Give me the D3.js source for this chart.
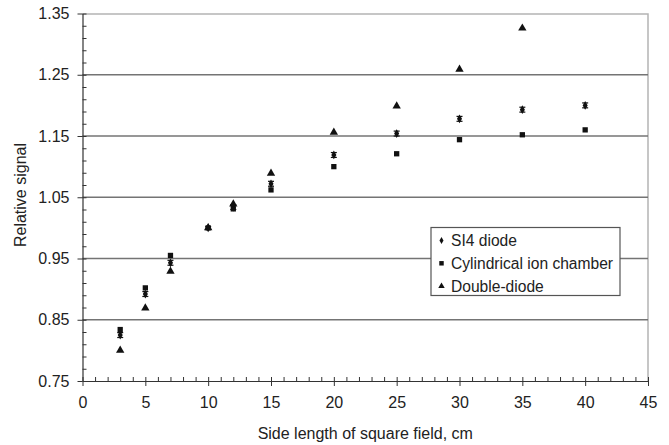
<!DOCTYPE html>
<html>
<head>
<meta charset="utf-8">
<script src="https://cdn.jsdelivr.net/npm/d3@7"></script>
<style>
  body { margin: 0; background: #fff; }
  text { font-family: Arial, "Liberation Sans", sans-serif; fill: #222; }
</style>
</head>
<body>
<div id="chart"></div>
<script>
/* data */
var fieldSizes = [3, 5, 7, 10, 12, 15, 20, 25, 30, 35, 40];
var si4Diode = [0.825, 0.892, 0.943, 1.000, 1.034, 1.072, 1.119, 1.154, 1.178, 1.193, 1.200];
var si4Error = [0.004, 0.004, 0.004, 0.002, 0.004, 0.004, 0.004, 0.004, 0.004, 0.004, 0.004];
var ionChamber = [0.834, 0.902, 0.955, 1.000, 1.031, 1.062, 1.100, 1.121, 1.144, 1.152, 1.160];
var doubleDiodeSizes = [3, 5, 7, 10, 12, 15, 20, 25, 30, 35];
var doubleDiode = [0.800, 0.869, 0.929, 1.000, 1.039, 1.089, 1.156, 1.199, 1.259, 1.326];
var seriesNames = ["SI4 diode", "Cylindrical ion chamber", "Double-diode"];
var xTicks = [0, 5, 10, 15, 20, 25, 30, 35, 40, 45];
var yTicks = [0.75, 0.85, 0.95, 1.05, 1.15, 1.25, 1.35];

var W = 669, H = 445,
    margin = {top: 13.5, right: 21, bottom: 64, left: 82.5},
    width = W - margin.left - margin.right,
    height = H - margin.top - margin.bottom,
    fontSize = 16;

var x = d3.scaleLinear().domain([0, 45]).range([0, width]);
var y = d3.scaleLinear().domain([0.75, 1.35]).range([height, 0]);

var svg = d3.select("#chart")
            .append("svg")
            .attr("width", W)
            .attr("height", H);

var chart = svg.append("g")
               .attr("transform", "translate(" + margin.left + "," + margin.top + ")");

/* plot area border (top and right) */
chart.append("path")
        .attr("d", "M0,0.5H" + width + "V" + height)
        .attr("fill", "none")
        .attr("stroke", "#b4b4b4")
        .attr("stroke-width", 1.5);

/* horizontal gridlines */
chart.append("g")
        .selectAll("line")
        .data(yTicks.slice(1, -1))
        .enter().append("line")
            .attr("x1", 0)
            .attr("x2", width)
            .attr("y1", function(d) { return y(d); })
            .attr("y2", function(d) { return y(d); })
            .attr("stroke", "#747474")
            .attr("stroke-width", 1.5);

/* minor ticks, inside */
chart.append("g")
        .call(d3.axisLeft(y).tickValues(d3.range(0.75, 1.351, 0.02)).tickSize(-4).tickFormat(""))
        .call(function(g) { g.select(".domain").remove(); });
chart.append("g")
        .attr("transform", "translate(0," + height + ")")
        .call(d3.axisBottom(x).tickValues(d3.range(0, 46, 1)).tickSize(-4).tickFormat(""))
        .call(function(g) { g.select(".domain").remove(); });

/* major axes */
var yAxis = chart.append("g")
        .call(d3.axisLeft(y).tickValues(yTicks).tickSize(5).tickSizeOuter(0)
              .tickPadding(8).tickFormat(d3.format(".2f")));
var xAxis = chart.append("g")
        .attr("transform", "translate(0," + height + ")")
        .call(d3.axisBottom(x).tickValues(xTicks).tickSize(5).tickSizeOuter(0).tickPadding(11));

chart.selectAll(".tick line").attr("stroke", "#333");
chart.selectAll(".domain").attr("stroke", "#333").attr("stroke-width", 1.2);
chart.selectAll(".tick text")
        .attr("font-size", fontSize)
        .attr("font-family", "Arial, 'Liberation Sans', sans-serif")
        .attr("fill", "#222");

/* axis labels */
svg.append("text")
        .attr("transform", "translate(" + (margin.left + width / 2) + "," + 439 + ")")
        .attr("text-anchor", "middle")
        .attr("font-size", fontSize)
        .text("Side length of square field, cm");

svg.append("text")
        .attr("transform", "translate(26," + 195 + ")rotate(-90)")
        .attr("text-anchor", "middle")
        .attr("font-size", fontSize)
        .text("Relative signal");

/* SI4 diode with error bars */
var si4 = chart.append("g")
        .selectAll("g")
        .data(fieldSizes.map(function(d, i) { return {x: d, y: si4Diode[i], e: si4Error[i]}; }))
        .enter().append("g")
            .attr("stroke", "#111")
            .attr("stroke-width", 1.2);
si4.append("line")
        .attr("x1", function(d) { return x(d.x); })
        .attr("x2", function(d) { return x(d.x); })
        .attr("y1", function(d) { return y(d.y - d.e); })
        .attr("y2", function(d) { return y(d.y + d.e); });
si4.selectAll(".cap")
        .data(function(d) { return [{x: d.x, y: d.y - d.e}, {x: d.x, y: d.y + d.e}]; })
        .enter().append("line")
            .attr("x1", function(d) { return x(d.x) - 3; })
            .attr("x2", function(d) { return x(d.x) + 3; })
            .attr("y1", function(d) { return y(d.y); })
            .attr("y2", function(d) { return y(d.y); });
si4.append("path")
        .attr("transform", function(d) { return "translate(" + x(d.x) + "," + y(d.y) + ")"; })
        .attr("d", d3.symbol(d3.symbolDiamond, 22))
        .attr("fill", "#111")
        .attr("stroke", "none");

/* cylindrical ion chamber */
chart.append("g")
        .selectAll("path")
        .data(fieldSizes.map(function(d, i) { return [d, ionChamber[i]]; }))
        .enter().append("path")
            .attr("transform", function(d) { return "translate(" + x(d[0]) + "," + y(d[1]) + ")"; })
            .attr("d", d3.symbol(d3.symbolSquare, 28))
            .attr("fill", "#111");

/* double diode */
chart.append("g")
        .selectAll("path")
        .data(doubleDiodeSizes.map(function(d, i) { return [d, doubleDiode[i]]; }))
        .enter().append("path")
            .attr("transform", function(d) { return "translate(" + x(d[0]) + "," + y(d[1]) + ")"; })
            .attr("d", d3.symbol(d3.symbolTriangle, 30))
            .attr("fill", "#111");

/* legend */
var legend = svg.append("g")
        .attr("transform", "translate(431,227.5)");
legend.append("rect")
        .attr("width", 189)
        .attr("height", 68)
        .attr("fill", "#fff")
        .attr("stroke", "#555")
        .attr("stroke-width", 1.2);

var symbols = [d3.symbolDiamond, d3.symbolSquare, d3.symbolTriangle],
    symbolSizes = [14, 20, 18];

var note = legend.selectAll(".item")
        .data(seriesNames)
        .enter().append("g")
            .attr("class", "item")
            .attr("transform", function(d, i) { return "translate(0," + (13 + i * 22.8) + ")"; });
note.append("path")
        .attr("transform", "translate(10.5,0)")
        .attr("d", function(d, i) { return d3.symbol(symbols[i], symbolSizes[i])(); })
        .attr("fill", "#111");
note.append("text")
        .attr("x", 20)
        .attr("y", 5.5)
        .attr("font-size", 15.6)
        .text(function(d) { return d; });
</script>
</body>
</html>
